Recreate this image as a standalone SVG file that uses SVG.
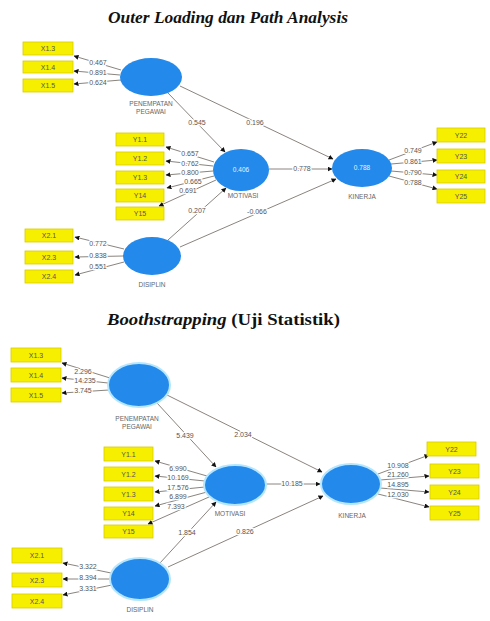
<svg xmlns="http://www.w3.org/2000/svg" width="490" height="621" viewBox="0 0 490 621">
<defs>
<marker id="ah" viewBox="0 0 10 10" refX="9" refY="5" markerWidth="5" markerHeight="5" orient="auto-start-reverse" markerUnits="userSpaceOnUse">
<path d="M0,0 L10,5 L0,10 z" fill="#111"/>
</marker>
<style>
.box{fill:#f7ef00;stroke:#d6cc00;stroke-width:0.8}
.bt{font-family:"Liberation Sans",Arial,sans-serif;font-size:7px;fill:#555;text-anchor:middle}
.lv{fill:#2389ea}
.lv2{fill:#2389ea;stroke:#b5e6ff;stroke-width:2}
.nl{font-family:"Liberation Sans",Arial,sans-serif;font-size:6.5px;fill:#666;text-anchor:middle}
.val{font-family:"Liberation Sans",Arial,sans-serif;font-size:6.5px;fill:#e8f2ff;text-anchor:middle}
.ln{stroke:#8a847e;stroke-width:1;fill:none;marker-end:url(#ah)}
.num{font-family:"Liberation Sans",Arial,sans-serif;font-size:7px;fill:#555;text-anchor:middle;stroke:#fff;stroke-width:2.5;paint-order:stroke;stroke-linejoin:round}
.title{font-family:"Liberation Serif","Times New Roman",serif;font-size:17px;font-weight:bold;fill:#111}
</style>
</defs>

<text class="title" x="108" y="23" font-style="italic" textLength="240" lengthAdjust="spacingAndGlyphs">Outer Loading dan Path Analysis</text>
<text class="title" x="107" y="325" textLength="233" lengthAdjust="spacingAndGlyphs"><tspan font-style="italic">Boothstrapping</tspan> (Uji Statistik)</text>

<g id="connectors">
<line class="ln" x1="121" y1="70" x2="74" y2="56"/>
<line class="ln" x1="120" y1="75" x2="74" y2="71"/>
<line class="ln" x1="121" y1="80" x2="74" y2="84"/>
<line class="ln" x1="214" y1="162" x2="166" y2="147"/>
<line class="ln" x1="213" y1="166" x2="166" y2="161"/>
<line class="ln" x1="213" y1="171" x2="166" y2="175"/>
<line class="ln" x1="214" y1="176" x2="167" y2="188"/>
<line class="ln" x1="216" y1="180" x2="159" y2="206"/>
<line class="ln" x1="389" y1="160" x2="437" y2="142"/>
<line class="ln" x1="391" y1="164" x2="437" y2="160"/>
<line class="ln" x1="391" y1="171" x2="437" y2="175"/>
<line class="ln" x1="389" y1="176" x2="437" y2="189"/>
<line class="ln" x1="124" y1="249" x2="75" y2="237"/>
<line class="ln" x1="123" y1="256" x2="75" y2="257"/>
<line class="ln" x1="124" y1="262" x2="75" y2="275"/>
<line class="ln" x1="168" y1="93" x2="225" y2="152"/>
<line class="ln" x1="180" y1="86" x2="333" y2="159"/>
<line class="ln" x1="269" y1="169" x2="332" y2="169"/>
<line class="ln" x1="168" y1="240" x2="226" y2="188"/>
<line class="ln" x1="180" y1="247" x2="336" y2="179"/>
<line class="ln" x1="110" y1="378" x2="62" y2="363"/>
<line class="ln" x1="108" y1="383" x2="62" y2="378"/>
<line class="ln" x1="109" y1="390" x2="62" y2="393"/>
<line class="ln" x1="207" y1="476" x2="155" y2="461"/>
<line class="ln" x1="205" y1="481" x2="155" y2="476"/>
<line class="ln" x1="205" y1="487" x2="155" y2="492"/>
<line class="ln" x1="207" y1="492" x2="155" y2="506"/>
<line class="ln" x1="209" y1="497" x2="148" y2="524"/>
<line class="ln" x1="378" y1="474" x2="429" y2="455"/>
<line class="ln" x1="380" y1="480" x2="429" y2="476"/>
<line class="ln" x1="380" y1="488" x2="429" y2="492"/>
<line class="ln" x1="378" y1="494" x2="429" y2="507"/>
<line class="ln" x1="111" y1="573" x2="63" y2="563"/>
<line class="ln" x1="110" y1="579" x2="63" y2="579"/>
<line class="ln" x1="112" y1="585" x2="63" y2="595"/>
<line class="ln" x1="157" y1="403" x2="216" y2="467"/>
<line class="ln" x1="167" y1="395" x2="322" y2="472"/>
<line class="ln" x1="266" y1="484" x2="320" y2="484"/>
<line class="ln" x1="160" y1="563" x2="216" y2="502"/>
<line class="ln" x1="168" y1="567" x2="323" y2="496"/>

<text class="num" x="98" y="65">0.467</text>
<text class="num" x="98" y="75">0.891</text>
<text class="num" x="98" y="85">0.624</text>
<text class="num" x="190" y="156">0.657</text>
<text class="num" x="190" y="166">0.762</text>
<text class="num" x="190" y="175">0.800</text>
<text class="num" x="193" y="184">0.665</text>
<text class="num" x="188" y="193">0.691</text>
<text class="num" x="413" y="153">0.749</text>
<text class="num" x="413" y="164">0.861</text>
<text class="num" x="413" y="175">0.790</text>
<text class="num" x="413" y="185">0.788</text>
<text class="num" x="98" y="246">0.772</text>
<text class="num" x="98" y="258">0.838</text>
<text class="num" x="98" y="269">0.551</text>
<text class="num" x="197" y="125">0.545</text>
<text class="num" x="255" y="125">0.196</text>
<text class="num" x="302" y="171">0.778</text>
<text class="num" x="197" y="213">0.207</text>
<text class="num" x="257" y="214">-0.066</text>
<text class="num" x="83" y="374">2.296</text>
<text class="num" x="85" y="383">14.235</text>
<text class="num" x="83" y="393">3.745</text>
<text class="num" x="178" y="471">6.990</text>
<text class="num" x="178" y="480">10.169</text>
<text class="num" x="178" y="490">17.576</text>
<text class="num" x="178" y="499">6.899</text>
<text class="num" x="176" y="509">7.393</text>
<text class="num" x="398" y="468">10.908</text>
<text class="num" x="398" y="477">21.260</text>
<text class="num" x="398" y="487">14.895</text>
<text class="num" x="398" y="497">12.030</text>
<text class="num" x="88" y="569">3.322</text>
<text class="num" x="88" y="580">8.394</text>
<text class="num" x="88" y="591">3.331</text>
<text class="num" x="185" y="438">5.439</text>
<text class="num" x="243" y="437">2.034</text>
<text class="num" x="292" y="486">10.185</text>
<text class="num" x="187" y="535">1.854</text>
<text class="num" x="245" y="534">0.826</text>
</g>

<g id="t-x13"><rect class="box" x="23" y="42" width="50" height="13"/><text class="bt" x="48" y="51">X1.3</text></g>
<g id="t-x14"><rect class="box" x="23" y="61" width="50" height="12"/><text class="bt" x="48" y="70">X1.4</text></g>
<g id="t-x15"><rect class="box" x="23" y="79" width="50" height="13"/><text class="bt" x="48" y="88">X1.5</text></g>
<g id="t-pen"><ellipse class="lv" cx="151" cy="77" rx="31" ry="19"/><text class="nl" x="151" y="106">PENEMPATAN</text><text class="nl" x="151" y="114">PEGAWAI</text></g>
<g id="t-y11"><rect class="box" x="116" y="133" width="48" height="13"/><text class="bt" x="140" y="142">Y1.1</text></g>
<g id="t-y12"><rect class="box" x="116" y="152" width="48" height="13"/><text class="bt" x="140" y="161">Y1.2</text></g>
<g id="t-y13"><rect class="box" x="116" y="171" width="48" height="13"/><text class="bt" x="140" y="180">Y1.3</text></g>
<g id="t-y14"><rect class="box" x="116" y="189" width="48" height="13"/><text class="bt" x="140" y="198">Y14</text></g>
<g id="t-y15"><rect class="box" x="116" y="207" width="48" height="13"/><text class="bt" x="140" y="216">Y15</text></g>
<g id="t-mot"><ellipse class="lv" cx="241" cy="170" rx="28" ry="21"/><text class="val" x="241" y="172">0.406</text><text class="nl" x="243" y="198">MOTIVASI</text></g>
<g id="t-kin"><ellipse class="lv" cx="362" cy="168" rx="30" ry="19"/><text class="val" x="362" y="170">0.788</text><text class="nl" x="362" y="199">KINERJA</text></g>
<g id="t-y22"><rect class="box" x="437" y="128" width="48" height="14"/><text class="bt" x="461" y="137.5">Y22</text></g>
<g id="t-y23"><rect class="box" x="437" y="149" width="48" height="14"/><text class="bt" x="461" y="158.5">Y23</text></g>
<g id="t-y24"><rect class="box" x="437" y="170" width="48" height="13"/><text class="bt" x="461" y="179">Y24</text></g>
<g id="t-y25"><rect class="box" x="437" y="189" width="48" height="14"/><text class="bt" x="461" y="198.5">Y25</text></g>
<g id="t-x21"><rect class="box" x="25" y="229" width="48" height="13"/><text class="bt" x="49" y="238">X2.1</text></g>
<g id="t-x23"><rect class="box" x="25" y="251" width="48" height="13"/><text class="bt" x="49" y="260">X2.3</text></g>
<g id="t-x24"><rect class="box" x="25" y="270" width="48" height="13"/><text class="bt" x="49" y="279">X2.4</text></g>
<g id="t-dis"><ellipse class="lv" cx="152" cy="256" rx="29" ry="19"/><text class="nl" x="152" y="287">DISIPLIN</text></g>

<g id="b-x13"><rect class="box" x="11" y="348" width="50" height="14"/><text class="bt" x="36" y="357.5">X1.3</text></g>
<g id="b-x14"><rect class="box" x="11" y="368" width="50" height="14"/><text class="bt" x="36" y="377.5">X1.4</text></g>
<g id="b-x15"><rect class="box" x="11" y="388" width="50" height="14"/><text class="bt" x="36" y="397.5">X1.5</text></g>
<g id="b-pen"><ellipse class="lv2" cx="139" cy="385" rx="31" ry="22"/><text class="nl" x="137" y="421">PENEMPATAN</text><text class="nl" x="137" y="429">PEGAWAI</text></g>
<g id="b-y11"><rect class="box" x="104" y="447" width="49" height="14"/><text class="bt" x="128.5" y="456.5">Y1.1</text></g>
<g id="b-y12"><rect class="box" x="104" y="467" width="49" height="14"/><text class="bt" x="128.5" y="476.5">Y1.2</text></g>
<g id="b-y13"><rect class="box" x="104" y="487" width="49" height="14"/><text class="bt" x="128.5" y="496.5">Y1.3</text></g>
<g id="b-y14"><rect class="box" x="104" y="507" width="49" height="13"/><text class="bt" x="128.5" y="516">Y14</text></g>
<g id="b-y15"><rect class="box" x="104" y="525" width="49" height="13"/><text class="bt" x="128.5" y="534">Y15</text></g>
<g id="b-mot"><ellipse class="lv2" cx="235" cy="485" rx="31" ry="20"/><text class="nl" x="230" y="516">MOTIVASI</text></g>
<g id="b-kin"><ellipse class="lv2" cx="351" cy="484" rx="30" ry="20"/><text class="nl" x="352" y="518">KINERJA</text></g>
<g id="b-y22"><rect class="box" x="427" y="442" width="49" height="14"/><text class="bt" x="451.5" y="451.5">Y22</text></g>
<g id="b-y23"><rect class="box" x="430" y="464" width="49" height="14"/><text class="bt" x="454.5" y="473.5">Y23</text></g>
<g id="b-y24"><rect class="box" x="430" y="485" width="49" height="14"/><text class="bt" x="454.5" y="494.5">Y24</text></g>
<g id="b-y25"><rect class="box" x="430" y="506" width="49" height="14"/><text class="bt" x="454.5" y="515.5">Y25</text></g>
<g id="b-x21"><rect class="box" x="12" y="548" width="50" height="15"/><text class="bt" x="37" y="558">X2.1</text></g>
<g id="b-x23"><rect class="box" x="12" y="573" width="50" height="14"/><text class="bt" x="37" y="582.5">X2.3</text></g>
<g id="b-x24"><rect class="box" x="12" y="594" width="50" height="14"/><text class="bt" x="37" y="603.5">X2.4</text></g>
<g id="b-dis"><ellipse class="lv2" cx="140" cy="579" rx="30" ry="21"/><text class="nl" x="140" y="612">DISIPLIN</text></g>
</svg>
